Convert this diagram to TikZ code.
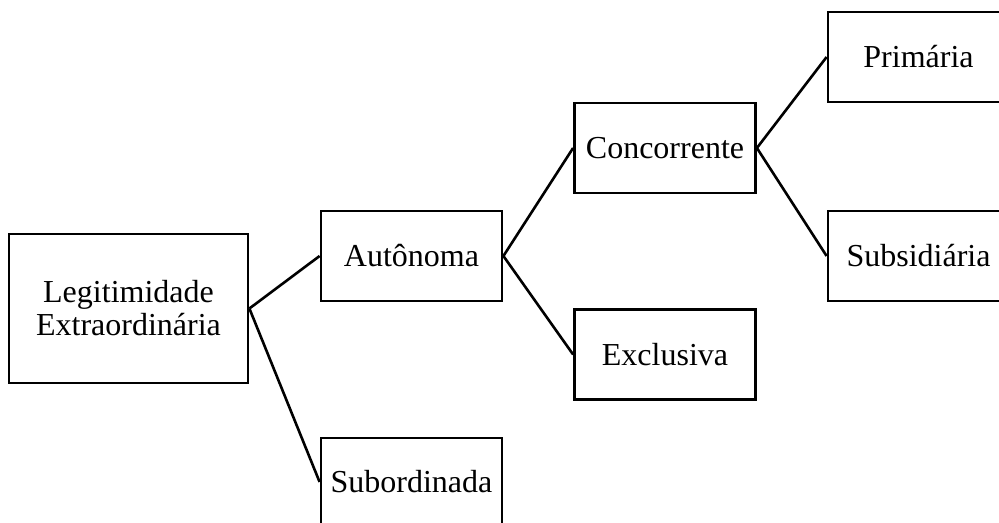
\documentclass[tikz,border=0pt]{standalone}
\usepackage{fontspec}
\setmainfont{Liberation Serif}
\usetikzlibrary{positioning}

\begin{document}
\begin{tikzpicture}[x=0.5pt, y=-0.5pt,
      box/.style={draw=black, line width=1.4pt, fill=white,
                  minimum width=90.5pt, minimum height=45pt, align=center,
                  inner sep=2pt, font=\fontsize{16}{16.5}\selectfont},
      link/.style={draw=black, line width=1.3pt},
    ]
      \useasboundingbox (0,0) rectangle (999,523);
      \clip (0,0) rectangle (999,523);
      \node[box, minimum width=119.5pt, minimum height=74.5pt] (leg) at (128.5,308.5)
        {Legitimidade\\Extraordinária};
      \node[box] (aut) at (411.5,256) {Autônoma};
      \node[box, minimum height=44pt] (sub) at (411.5,482) {Subordinada};
      \node[box] (conc) at (665,148) {Concorrente};
      \node[box] (excl) at (665,354.5) {Exclusiva};
      \node[box] (prim) at (918.5,57) {Primária};
      \node[box] (subs) at (918.5,256) {Subsidiária};
      \draw[link] (leg.east) -- (aut.west);
      \draw[link] (leg.east) -- (sub.west);
      \draw[link] (aut.east) -- (conc.west);
      \draw[link] (aut.east) -- (excl.west);
      \draw[link] (conc.east) -- (prim.west);
      \draw[link] (conc.east) -- (subs.west);
    \end{tikzpicture}
\end{document}
